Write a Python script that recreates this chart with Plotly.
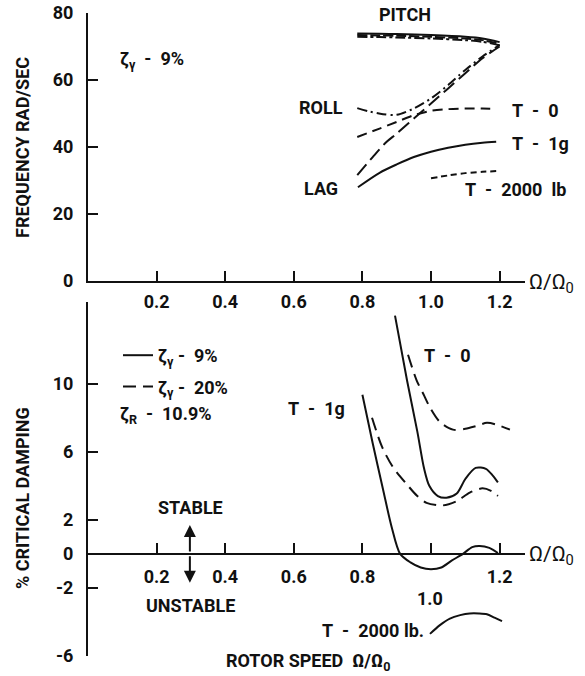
import plotly.graph_objects as go

# ---------------- data: top panel (frequency, rad/sec) ----------------
pitch_x = [0.785, 0.85, 0.9, 1.0, 1.1, 1.15, 1.2]
pitch_solid = [73.9, 73.8, 73.7, 73.4, 72.9, 72.4, 71.3]
pitch_dash = [73.4, 73.3, 73.2, 72.9, 72.4, 71.9, 70.8]
pitch_dashdot = [72.9, 72.8, 72.7, 72.4, 71.9, 71.4, 70.4]

roll_x = [0.785, 0.82, 0.86, 0.9, 0.95, 1.0, 1.05, 1.1, 1.15, 1.2]
roll_dashdot = [51.6, 50.6, 49.8, 49.6, 51.5, 54.5, 58.5, 63.0, 67.0, 70.5]

lag0_x = [0.785, 0.83, 0.87, 0.9, 0.95, 1.0, 1.05, 1.1, 1.15, 1.2]
lag0_longdash = [31.6, 37.0, 41.5, 44.0, 48.5, 53.0, 57.5, 62.0, 66.5, 70.0]

roll0_x = [0.785, 0.85, 0.9, 0.95, 1.0, 1.05, 1.1, 1.15, 1.19]
roll0_dash = [43.0, 45.5, 47.5, 49.5, 50.8, 51.3, 51.5, 51.5, 51.3]

lag1g_x = [0.787, 0.85, 0.9, 0.95, 1.0, 1.05, 1.1, 1.15, 1.19]
lag1g_solid = [28.0, 32.3, 34.8, 37.0, 38.6, 39.8, 40.7, 41.3, 41.6]

t2000_x = [1.0, 1.05, 1.1, 1.15, 1.19]
t2000_top = [30.7, 31.5, 32.2, 32.6, 32.8]

# ---------------- data: bottom panel (% critical damping) ----------------
d_t0_x = [0.895, 0.93, 0.96, 0.98, 0.995, 1.02, 1.045, 1.075, 1.1, 1.13, 1.16, 1.18, 1.195]
d_t0_9 = [14.0, 10.2, 7.2, 5.0, 4.0, 3.4, 3.3, 3.55, 4.4, 5.05, 5.0, 4.6, 4.2]

d_t0_20x = [0.933, 0.958, 0.98, 0.997, 1.026, 1.064, 1.1, 1.13, 1.163, 1.19, 1.23]
d_t0_20 = [11.7, 10.2, 9.3, 8.6, 7.75, 7.3, 7.35, 7.5, 7.7, 7.6, 7.3]

d_t1_x = [0.80, 0.83, 0.86, 0.885, 0.91, 0.94, 0.97, 1.0, 1.03, 1.06, 1.093, 1.12, 1.142, 1.17, 1.195]
d_t1_9 = [9.35, 6.5, 3.8, 1.6, 0.0, -0.5, -0.8, -0.9, -0.8, -0.4, 0.0, 0.4, 0.47, 0.35, 0.05]

d_t1_20x = [0.828, 0.857, 0.889, 0.929, 0.96, 0.987, 1.035, 1.075, 1.113, 1.15, 1.175, 1.195]
d_t1_20 = [8.0, 6.3, 5.1, 4.1, 3.4, 3.0, 2.85, 3.1, 3.6, 3.85, 3.7, 3.4]

d_t2_x = [0.997, 1.025, 1.055, 1.085, 1.113, 1.14, 1.163, 1.185, 1.207]
d_t2_9 = [-4.7, -4.2, -3.8, -3.6, -3.5, -3.5, -3.55, -3.75, -3.95]

x_ticks = [0.2, 0.4, 0.6, 0.8, 1.0, 1.2]
top_yticks = [0, 20, 40, 60, 80]
bot_yticks = [-6, -2, 0, 2, 6, 10]

# ---------------- layout geometry ----------------
W, H = 585, 676
ML, MR, MT, MB = 88, 60, 13, 20
PW = W - ML - MR
PH = H - MT - MB
top_px = (13, 281)
bot_px = (302, 656)


def frac(py):
    return (H - MB - py) / PH


def xfrac(px):
    return (px - ML) / PW


XR = [0, 1.274]
TOPR = [0, 80]
BOTR = [-6, 14.8]
bot_dom = [frac(bot_px[1]), frac(bot_px[0])]
zero_pos = bot_dom[0] + (bot_dom[1] - bot_dom[0]) * (0 - BOTR[0]) / (BOTR[1] - BOTR[0])

FONT = "Roboto, Liberation Sans Narrow, Arial Narrow, sans-serif"
BLK = "#111111"
LW = 2
DASH_BOT = "13px,7px"
FS = 18
S = "&nbsp;"

fig = go.Figure()


def add(x, y, dash, xa="x", ya="y", name=None, show=False, group=None):
    fig.add_trace(go.Scatter(
        x=x, y=y, mode="lines", xaxis=xa, yaxis=ya,
        line=dict(color=BLK, width=LW, dash=dash, shape="spline", smoothing=0.8),
        name=name, showlegend=show, legendgroup=group, hoverinfo="skip"))


# top panel
add(pitch_x, pitch_solid, "solid")
add(pitch_x, pitch_dash, "10px,3px")
add(pitch_x, pitch_dashdot, "10px,3px,3px,3px")
add(roll_x, roll_dashdot, "10px,4px,2px,4px")
add(lag0_x, lag0_longdash, "14px,6px")
add(roll0_x, roll0_dash, "10px,6px")
add(lag1g_x, lag1g_solid, "solid")
add(t2000_x, t2000_top, "6px,4px")

# bottom panel
add(d_t0_x, d_t0_9, "solid", "x2", "y2")
add(d_t0_20x, d_t0_20, DASH_BOT, "x2", "y2")
add(d_t1_x, d_t1_9, "solid", "x2", "y2",
    name=f"ζ<sub>γ</sub>{S}-{S}{S}9%", show=True, group="a")
add(d_t1_20x, d_t1_20, DASH_BOT, "x2", "y2",
    name=f"ζ<sub>γ</sub>{S}-{S}{S}20%", show=True, group="b")
add(d_t2_x, d_t2_9, "solid", "x2", "y2")

tickfont = dict(family=FONT, size=FS, color=BLK, weight="bold")
axis_common = dict(showline=True, linecolor=BLK, linewidth=LW, ticks="inside",
                   tickcolor=BLK, tickwidth=LW, ticklen=10, showgrid=False,
                   zeroline=False, tickfont=tickfont, automargin=False)

fig.update_layout(
    width=W, height=H,
    margin=dict(l=ML, r=MR, t=MT, b=MB, autoexpand=False),
    paper_bgcolor="white", plot_bgcolor="white",
    font=dict(family=FONT, color=BLK, size=FS),
    xaxis=dict(domain=[0, 1], range=XR, anchor="y", tickvals=x_ticks,
               ticktext=[f"{v:.1f}" for v in x_ticks], ticklabelstandoff=3, **axis_common),
    yaxis=dict(domain=[frac(top_px[1]), 1], range=TOPR, anchor="x", tickvals=top_yticks,
               ticklabelstandoff=9, **axis_common),
    xaxis2=dict(domain=[0, 1], range=XR, anchor="free", position=zero_pos,
                tickvals=x_ticks,
                ticktext=["0.2", "0.4", "0.6", "0.8", "", "1.2"],
                ticklabelstandoff=7, **axis_common),
    yaxis2=dict(domain=bot_dom, range=BOTR, anchor="x2", tickvals=bot_yticks,
                ticktext=["-6", "-2", "0", "2", "6", "10"],
                ticklabelstandoff=9, **axis_common),
    legend=dict(x=xfrac(118), y=frac(337), xanchor="left", yanchor="top",
                font=dict(family=FONT, size=FS, color=BLK, weight="bold"),
                bgcolor="rgba(0,0,0,0)", itemwidth=30, tracegroupgap=5,
                traceorder="grouped"),
)


def ann(text, px, py, size=FS, bold=True, xanchor="center", yanchor="middle", **kw):
    """Place a text label at a pixel position of the page."""
    fig.add_annotation(text=text, x=xfrac(px), y=frac(py), xref="paper", yref="paper",
                       showarrow=False, xanchor=xanchor, yanchor=yanchor,
                       font=dict(family=FONT, size=size, color=BLK,
                                 weight="bold" if bold else "normal"), **kw)


# top panel labels
ann(f"ζ<sub>γ</sub>{S}{S}-{S}{S}9%", 118, 60, xanchor="left")
ann("PITCH", 405, 15)
ann("ROLL", 321, 108)
ann("LAG", 321, 188)
ann(f"T{S}{S}-{S}{S}0", 535, 110)
ann(f"T{S}{S}-{S}{S}1g", 540, 143)
ann(f"T{S}{S}-{S}{S}2000{S}{S}lb", 515, 190)
ann("Ω/Ω<sub>0</sub>", 527, 283, xanchor="left", bold=False, size=21)

# bottom panel labels
ann(f"ζ<sub>R</sub>{S}{S}-{S}{S}10.9%", 118, 415, xanchor="left")
ann(f"T{S}{S}-{S}{S}0", 447, 355)
ann(f"T{S}{S}-{S}{S}1g", 316, 408)
ann(f"T{S}{S}-{S}{S}2000{S}lb.", 426, 630, xanchor="right")
ann("1.0", 430, 598)
ann("STABLE", 190, 507)
ann("UNSTABLE", 190, 605)
ann("Ω/Ω<sub>0</sub>", 527, 555, xanchor="left", bold=False, size=21)
ann(f"ROTOR{S}SPEED{S}{S}Ω/Ω<sub>0</sub>", 308, 662)

# axis titles
ann("FREQUENCY RAD/SEC", 22, 148, textangle=-90)
ann("% CRITICAL DAMPING", 22, 498, textangle=-90)

# stable / unstable double arrow
for yv, ay in [(1.7, 28), (-1.7, -28)]:
    fig.add_annotation(x=0.297, y=yv, xref="x2", yref="y2", ax=0, ay=ay, text="",
                       showarrow=True, arrowhead=2, arrowsize=1.2, arrowwidth=2,
                       arrowcolor=BLK)

fig.write_html("out.html")
